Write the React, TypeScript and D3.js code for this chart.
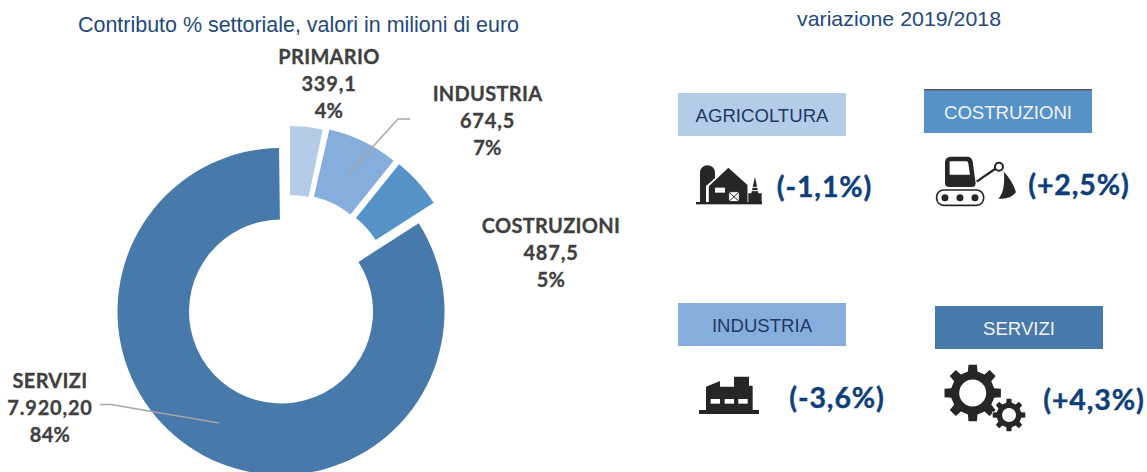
import React from "react";
import * as d3 from "d3";

const sectors = ["PRIMARIO", "INDUSTRIA", "COSTRUZIONI", "SERVIZI"];
const valueLabels = ["339,1", "674,5", "487,5", "7.920,20"];
const values = [339.1, 674.5, 487.5, 7920.2];
const percents = ["4%", "7%", "5%", "84%"];
const colors = ["#B4CCE8", "#86AEDD", "#5592C8", "#4779AA"];
const centers: [number, number][] = [[290, 286], [293.5, 285.5], [299, 289], [281, 311.5]];
const radii = [[91, 160], [91, 160], [91, 160], [92, 163.5]];
const endTrim = [0.02, 0, 0, 0.012];
const labelPos: [number, number][] = [[329, 63.5], [487.5, 101], [551, 232.5], [50, 388]];

const changeNames = ["AGRICOLTURA", "COSTRUZIONI", "INDUSTRIA", "SERVIZI"];
const changeValues = ["(-1,1%)", "(+2,5%)", "(-3,6%)", "(+4,3%)"];
const changeColors = ["#B4CCE8", "#5592C8", "#86AEDD", "#4779AA"];
const changeText = ["#1F3864", "#F2F2F2", "#1F3864", "#F2F2F2"];
const boxes = [[678, 93], [924, 90], [678, 303], [935, 306]];
const changePos = [[824.5, 197], [1079, 195], [837, 408], [1094, 410]];

const pieGen = d3.pie<number>().sort(null).startAngle(0).endAngle(2 * Math.PI);
const arcs = pieGen(values);

const DARK = "#262626";

function gearPath(cx: number, cy: number, teeth: number, rBody: number, rOut: number, rot = 0) {
  const p = d3.path();
  const step = (2 * Math.PI) / teeth;
  for (let i = 0; i < teeth; i++) {
    const a = i * step + rot;
    const pts: [number, number][] = [
      [rBody, a - step * 0.28],
      [rOut, a - step * 0.19],
      [rOut, a + step * 0.19],
      [rBody, a + step * 0.28],
    ];
    pts.forEach(([r, t], j) => {
      const x = cx + r * Math.sin(t);
      const y = cy - r * Math.cos(t);
      if (i === 0 && j === 0) p.moveTo(x, y);
      else p.lineTo(x, y);
    });
  }
  p.closePath();
  return p.toString();
}

function Farm() {
  return (
    <g transform="translate(680,150) scale(0.3333)">
      <path d="M60 160V68a22 22 0 0 1 45 0V85L78 108V160Z" fill={DARK} />
      <path d="M84 160V108L145 50L205 104V160Z" fill={DARK} stroke="#fff" strokeWidth={5} />
      <rect x={48} y={156} width={198} height={7} fill={DARK} />
      <rect x={105} y={113} width={30} height={15} fill="#fff" />
      <rect x={146} y={125} width={32} height={30} fill="#fff" />
      <path d="M146 125L178 155M178 125L146 155" stroke={DARK} strokeWidth={3} />
      <rect x={146} y={125} width={32} height={30} fill="none" stroke={DARK} strokeWidth={3} />
      <path d="M225 80L235 130H245V160H205V130H214Z" fill={DARK} />
      <path d="M217 112H232M213 122H236" stroke="#fff" strokeWidth={3} />
    </g>
  );
}

function Excavator() {
  return (
    <g transform="translate(680,150) scale(0.3333)">
      <path d="M795 38Q795 20 813 20H862Q875 20 878 34L887 100Q887 111 876 111H808Q795 111 795 98Z" fill={DARK} />
      <path d="M809 34H860Q864 34 865 40L870 74H809Z" fill="#fff" />
      <rect x={770} y={120} width={141} height={46} rx={21} fill="#fff" stroke={DARK} strokeWidth={5} />
      {[795, 840, 885].map((x) => <circle key={x} cx={x} cy={143} r={10.5} fill={DARK} />)}
      <path d="M890 95L945 57" stroke={DARK} strokeWidth={7} />
      <circle cx={957} cy={50} r={12} fill="#fff" stroke={DARK} strokeWidth={6} />
      <path d="M967 60Q1000 95 1008 127Q990 150 955 146Q976 125 972 68Z" fill={DARK} />
    </g>
  );
}

function Factory() {
  return (
    <g transform="translate(680,355) scale(0.3333)">
      <path d="M78 165V95L120 78V95H162V65H207V92H218V165Z" fill={DARK} />
      <rect x={57} y={165} width={180} height={12} fill={DARK} />
      {[92, 134, 175].map((x) => <rect key={x} x={x} y={132} width={28} height={14} fill="#fff" />)}
    </g>
  );
}

function Gears() {
  return (
    <g>
      <path d={gearPath(972.7, 393, 8, 22, 28.5)} fill={DARK} />
      <circle cx={972.7} cy={393} r={13.5} fill="#fff" />
      <path d={gearPath(1009, 415, 8, 12.5, 16.5)} fill={DARK} stroke="#fff" strokeWidth={1.5} paintOrder="stroke" />
      <circle cx={1009} cy={415} r={7} fill="#fff" />
    </g>
  );
}

export default function App() {
  const labelFont = "Lato, 'Open Sans', sans-serif";
  return (
    <svg width={1147} height={472} viewBox="0 0 1147 472"
      style={{ position: "absolute", left: 0, top: 0, background: "#fff" }}>
      <text x={78} y={32} fontFamily="'Liberation Sans'" fontSize={21.4} fontWeight={400} fill="#1F497D"
        textLength={441} lengthAdjust="spacingAndGlyphs">
        Contributo % settoriale, valori in milioni di euro
      </text>
      <text x={797} y={26} fontFamily="'Liberation Sans'" fontSize={21} fill="#1F497D"
        textLength={204} lengthAdjust="spacingAndGlyphs">
        variazione 2019/2018
      </text>

      {arcs.map((a, i) => {
        const gen = d3.arc<d3.PieArcDatum<number>>().innerRadius(radii[i][0]).outerRadius(radii[i][1]);
        const trimmed = { ...a, endAngle: a.endAngle - endTrim[i] };
        return <path key={i} d={gen(trimmed) as string} transform={`translate(${centers[i][0]},${centers[i][1]})`} fill={colors[i]} />;
      })}

      <polyline points="349,173 398,119 410,119" fill="none" stroke="#A6A6A6" strokeWidth={1.4} />
      <polyline points="219,423 111,404.5 100,404.5" fill="none" stroke="#A6A6A6" strokeWidth={1.4} />

      {sectors.map((s, i) => (
        <text key={s} textAnchor="middle" fontFamily={labelFont} fontWeight={700} fontSize={20} fill="#404040" stroke="#404040" strokeWidth={0.3} letterSpacing={0.3}>
          <tspan x={labelPos[i][0]} y={labelPos[i][1]}>{s}</tspan>
          <tspan x={labelPos[i][0]} y={labelPos[i][1] + 27} letterSpacing={0.8}>{valueLabels[i]}</tspan>
          <tspan x={labelPos[i][0]} y={labelPos[i][1] + 54}>{percents[i]}</tspan>
        </text>
      ))}

      {changeNames.map((n, i) => (
        <g key={n}>
          <rect x={boxes[i][0]} y={boxes[i][1]} width={168} height={43} fill={changeColors[i]} />
          <text x={boxes[i][0] + 84} y={boxes[i][1] + 29} textAnchor="middle" fontFamily="'Liberation Sans'" fontSize={18.6} fill={changeText[i]}>{n}</text>
          <text x={changePos[i][0]} y={changePos[i][1]} textAnchor="middle" fontFamily={labelFont} fontWeight={700} fontSize={28.5} fill="#0F3F78" stroke="#0F3F78" strokeWidth={0.4} letterSpacing={0.9}>{changeValues[i]}</text>
        </g>
      ))}
      <rect x={924} y={89} width={168} height={1.5} fill="#595959" />

      <Farm />
      <Excavator />
      <Factory />
      <Gears />
    </svg>
  );
}
